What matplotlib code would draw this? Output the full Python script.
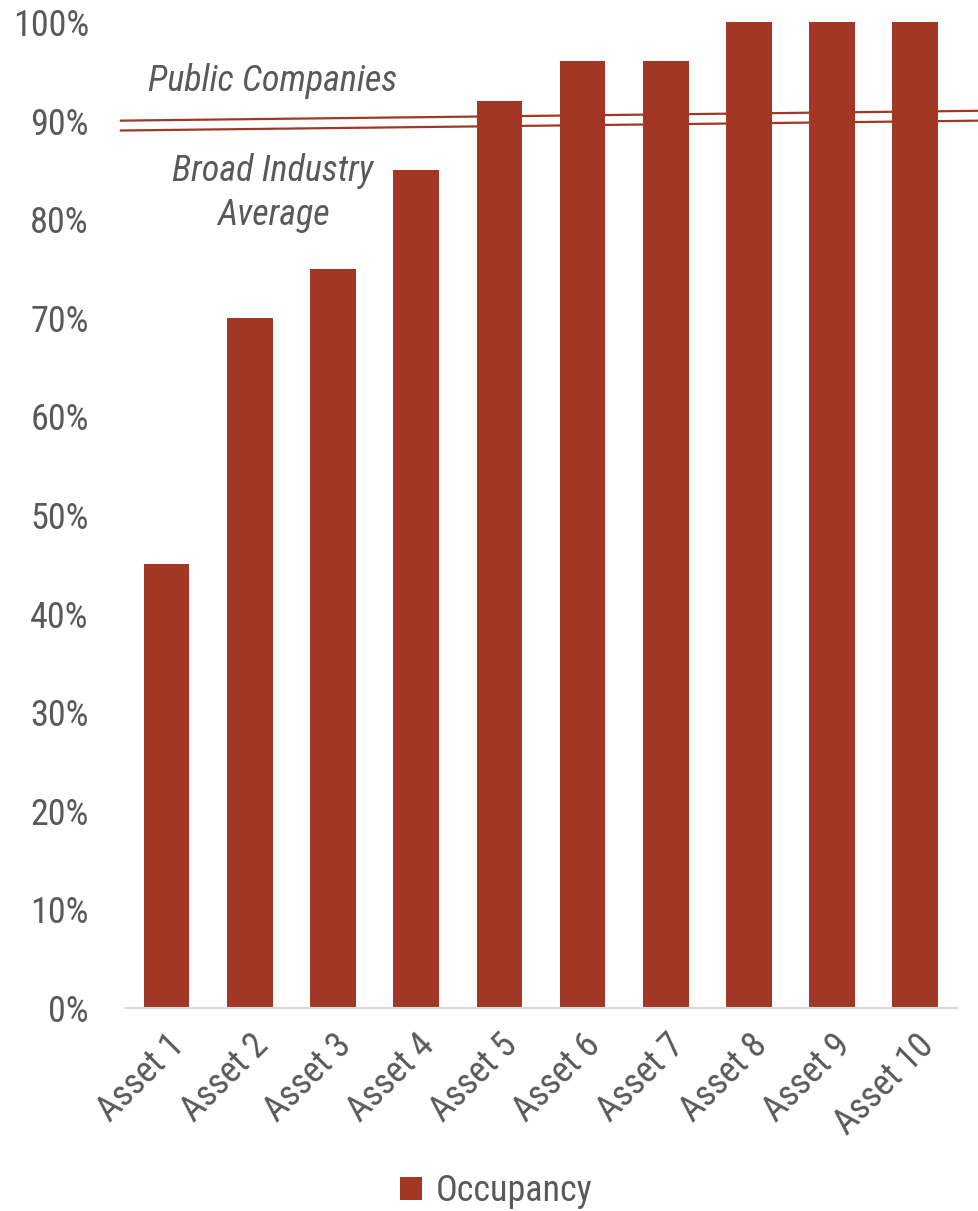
import numpy as np
import matplotlib
matplotlib.use("Agg")
import matplotlib.pyplot as plt
from matplotlib.ticker import PercentFormatter

plt.rcParams['font.family'] = ['Roboto Condensed', 'Liberation Sans', 'DejaVu Sans']

assets = ['Asset 1', 'Asset 2', 'Asset 3', 'Asset 4', 'Asset 5',
          'Asset 6', 'Asset 7', 'Asset 8', 'Asset 9', 'Asset 10']
occupancy = [0.45, 0.70, 0.75, 0.85, 0.92, 0.96, 0.96, 1.00, 1.00, 1.00]

# benchmark lines (start, end)
line_x = [-0.55, 9.77]
public_cos = [0.90, 0.91]
broad_avg = [0.89, 0.90]

bar_col = '#A33726'
txt_col = '#595959'

fig = plt.figure(figsize=(9.79, 12.11), dpi=100)
ax = fig.add_axes([0.1277, 0.1676, 0.8498, 0.8142])

x = np.arange(len(assets))
ax.bar(x, occupancy, width=0.55, color=bar_col, label='Occupancy', zorder=2)

ax.plot(line_x, public_cos, color=bar_col, lw=1.6, clip_on=False, zorder=3)
ax.plot(line_x, broad_avg, color=bar_col, lw=1.6, clip_on=False, zorder=3)

ax.text(1.28, 0.940, 'Public Companies', style='italic', fontsize=26,
        color=txt_col, ha='center', va='center')
ax.text(1.28, 0.827, 'Broad Industry\nAverage', style='italic', fontsize=26,
        color=txt_col, ha='center', va='center', linespacing=1.28)

ax.set_xlim(-0.5, 9.5)
ax.set_ylim(0, 1.0)
ax.set_yticks(np.arange(0, 1.01, 0.1))
ax.yaxis.set_major_formatter(PercentFormatter(1.0, decimals=0))
ax.set_xticks(x)
ax.set_xticklabels(assets, rotation=45, ha='right', rotation_mode='anchor')
ax.tick_params(axis='both', length=0, labelsize=26, colors=txt_col)
ax.tick_params(axis='x', pad=14)
ax.tick_params(axis='y', pad=26)

for s in ['top', 'right', 'left']:
    ax.spines[s].set_visible(False)
ax.spines['bottom'].set_color('#D9D9D9')
ax.spines['bottom'].set_linewidth(1.5)

fig.legend(loc='center', bbox_to_anchor=(0.507, 0.0165), frameon=False,
           fontsize=26, labelcolor=txt_col, handlelength=0.6, handleheight=0.6,
           handletextpad=0.4)

fig.savefig('out.png', dpi=100)
